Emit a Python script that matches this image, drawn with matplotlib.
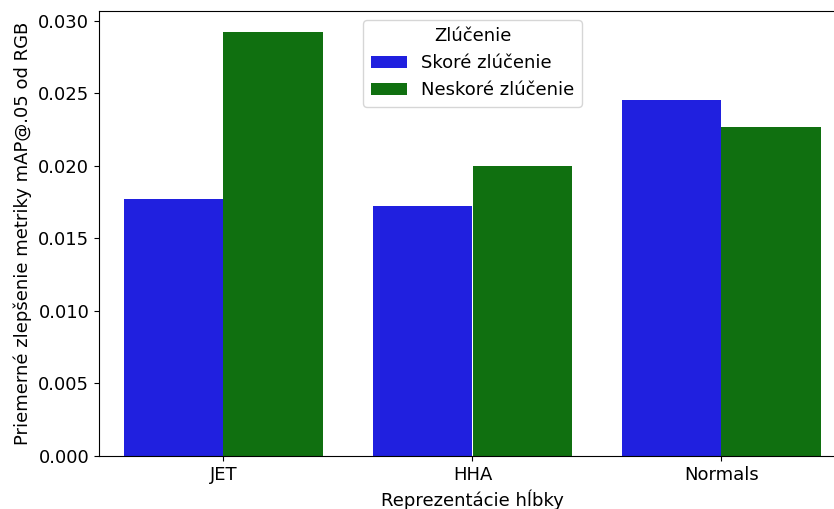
import pandas as pd
import matplotlib
matplotlib.use("Agg")
import matplotlib.pyplot as plt
import seaborn as sns

representations = ["JET", "HHA", "Normals"]
early_fusion = [0.0177, 0.0172, 0.0245]
late_fusion = [0.0292, 0.0200, 0.0227]
fusion_labels = ["Skoré zlúčenie", "Neskoré zlúčenie"]

df = pd.DataFrame({
    "Reprezentácie hĺbky": representations * 2,
    "Zlepšenie": early_fusion + late_fusion,
    "Zlúčenie": [fusion_labels[0]] * 3 + [fusion_labels[1]] * 3,
})

plt.rcParams["font.family"] = ["DejaVu Sans"]
plt.rcParams["font.size"] = 13

fig = plt.figure(figsize=(8.34, 5.09), dpi=100)
ax = fig.add_axes([99 / 834, 53 / 509, 747 / 834, 445 / 509])

sns.barplot(data=df, x="Reprezentácie hĺbky", y="Zlepšenie", hue="Zlúčenie",
            palette=["blue", "green"], ax=ax)

ax.set_xlabel("Reprezentácie hĺbky", fontsize=13)
ax.set_ylabel("Priemerné zlepšenie metriky mAP@.05 od RGB", fontsize=13)
ax.tick_params(labelsize=13)
ax.legend(title="Zlúčenie", loc="upper center", fontsize=13, title_fontsize=13)

fig.savefig("out.png", dpi=100)
